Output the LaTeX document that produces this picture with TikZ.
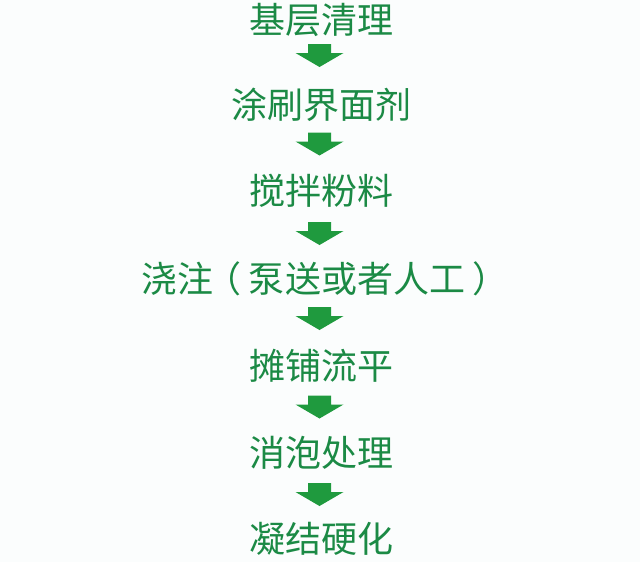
\documentclass[tikz,border=0pt]{standalone}
\usepackage{fontspec}
\newfontfamily\cjk{Noto Sans CJK SC}
\definecolor{txtgreen}{RGB}{27,138,69}
\definecolor{arrgreen}{RGB}{31,154,62}
\definecolor{bgcol}{RGB}{251,253,253}
\newcommand{\lpar}{\makebox[1em][l]{\hspace*{-0.22em}（}}
\newcommand{\rpar}{\makebox[1em][l]{\hspace*{0.22em}）}}
\begin{document}
\begin{tikzpicture}[x=1pt,y=-1pt,
  steptext/.style={font=\cjk\fontsize{36}{40}\selectfont, text=txtgreen, inner sep=0pt, anchor=center},
  downarrow/.pic={\fill[arrgreen] (-11.5,-11.5) -- (11.5,-11.5) -- (11.5,-2.5) -- (24,-2.5) -- (0,11.5) -- (-24,-2.5) -- (-11.5,-2.5) -- cycle;}]
\fill[bgcol] (0,0) rectangle (640,562);
\useasboundingbox (0,0) rectangle (640,562);
\node[steptext] (s1) at (321,20) {基层清理};
\node[steptext] (s2) at (321,104.5) {涂刷界面剂};
\node[steptext] (s3) at (321,190.5) {搅拌粉料};
\node[steptext] (s4) at (321,278.5) {浇注\lpar 泵送或者人工\rpar};
\node[steptext] (s5) at (321,366) {摊铺流平};
\node[steptext] (s6) at (321,453) {消泡处理};
\node[steptext] (s7) at (321,538.5) {凝结硬化};
\pic at (319.5,55.5) {downarrow};
\pic at (319.5,144) {downarrow};
\pic at (319.5,233.5) {downarrow};
\pic at (319.5,318.5) {downarrow};
\pic at (319.5,407) {downarrow};
\pic at (319.5,494.5) {downarrow};
\end{tikzpicture}
\end{document}
